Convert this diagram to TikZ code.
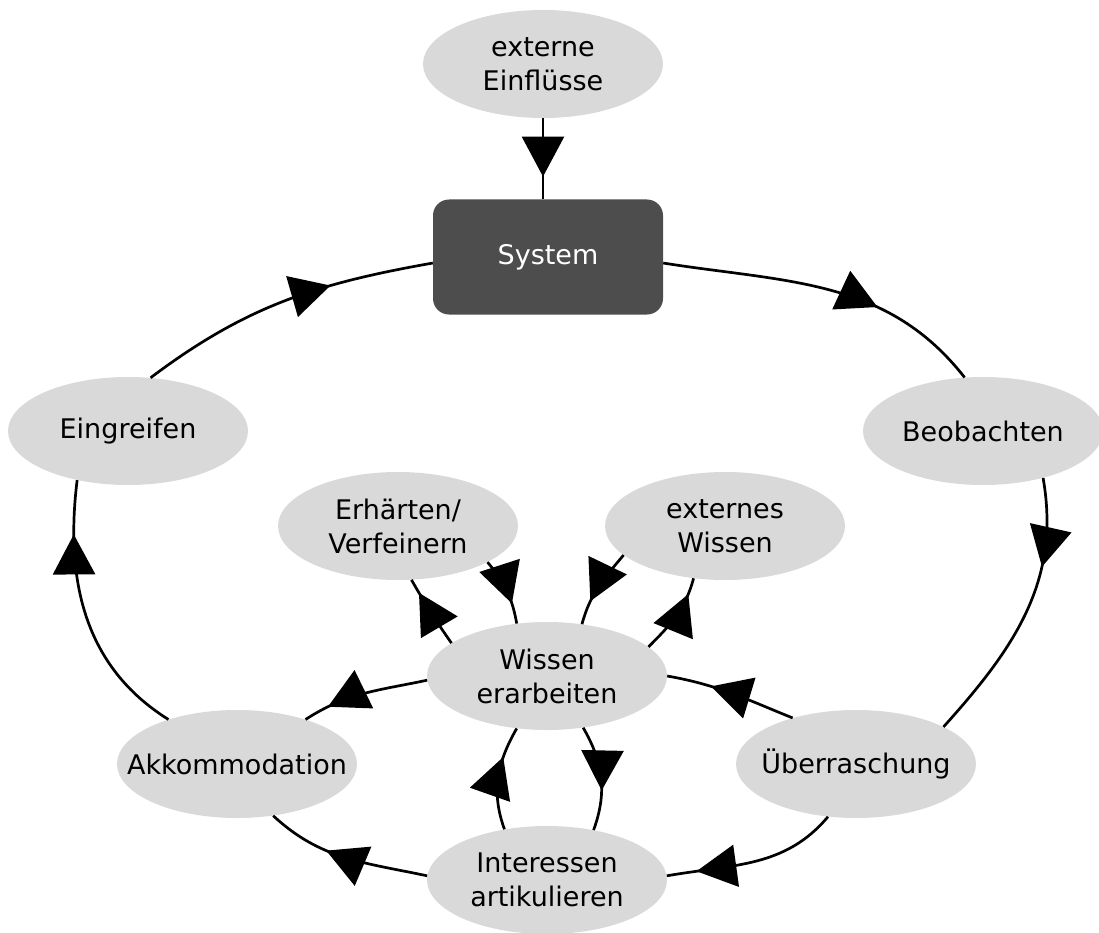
\documentclass[tikz,border=0pt]{standalone}
\usepackage{fontspec}
\setmainfont{DejaVu Sans}
\usetikzlibrary{arrows.meta,decorations.markings,shapes.geometric}
\definecolor{bubgray}{HTML}{D9D9D9}
\definecolor{sysgray}{HTML}{4D4D4D}
\tikzset{
  txt/.style={font=\fontsize{27}{34}\selectfont, align=center, inner sep=0pt, text=black},
  bub/.style={ellipse, fill=bubgray, minimum width=240pt, minimum height=108pt, inner sep=0pt,
              label={[txt]center:{#1}}},
  sysbox/.style={rectangle, rounded corners=16pt, fill=sysgray, minimum width=230pt,
                 minimum height=115pt, text=white, font=\fontsize{27}{34}\selectfont},
  flow/.style={line width=2.7pt, postaction={decorate},
    decoration={markings, mark=at position #1 with {\arrow{Triangle[length=40pt,width=42pt]}}}},
}
\begin{document}
\begin{tikzpicture}[x=1pt,y=1pt]
\useasboundingbox (0,0) rectangle (1099,-933);
% nodes
\node[bub={externe\\Einflüsse}] (ext) at (543,-64) {};
\node[sysbox] (sys) at (548,-257) {System};
\node[bub={Eingreifen}] (ein) at (128,-431) {};
\node[bub={Beobachten}] (beo) at (983,-431) {};
\node[bub={Erhärten/\\Verfeinern}] (erh) at (398,-526) {};
\node[bub={externes\\Wissen}] (exw) at (725,-526) {};
\node[bub={Wissen\\erarbeiten}] (wis) at (547,-676) {};
\node[bub={Interessen\\artikulieren}] (int) at (547,-880) {};
\node[bub={Akkommodation}] (akk) at (237,-764) {};
\node[bub={Überraschung}] (ueb) at (856,-764) {};
% connectors
\draw[flow=0.72] (ext.south) -- (ext.south |- sys.north);
\draw[flow=0.66] (sys.-3) to[out=-9,in=128] (beo.109);
\draw[flow=0.32] (beo.-38) to[out=-80,in=48] (ueb.23);
\draw[flow=0.66] (ueb.144) to[out=158,in=-10] (wis.0);
\draw[flow=0.83] (ueb.-118) to[out=-130,in=10] (int.2);
\draw[flow=0.62] (int.178) to[out=168,in=-43] (akk.-55);
\draw[flow=0.8] (wis.182) to[out=192,in=33] (akk.33);
\draw[flow=0.8] (akk.147) to[out=148,in=-97] (ein.-136);
\draw[flow=0.66] (ein.67) to[out=37,in=190] (sys.183);
\draw[flow=0.8] (wis.161) to[out=125,in=-60] (erh.-76);
\draw[flow=0.7] (erh.-22) to[out=-50,in=100] (wis.120);
\draw[flow=0.7] (exw.-164) to[out=-130,in=75] (wis.56);
\draw[flow=0.8] (wis.16) to[out=45,in=-105] (exw.-121);
\draw[flow=0.62] (wis.-55) to[out=-60,in=70] (int.47);
\draw[flow=0.7] (int.130) to[out=110,in=-120] (wis.-120);
\end{tikzpicture}
\end{document}
